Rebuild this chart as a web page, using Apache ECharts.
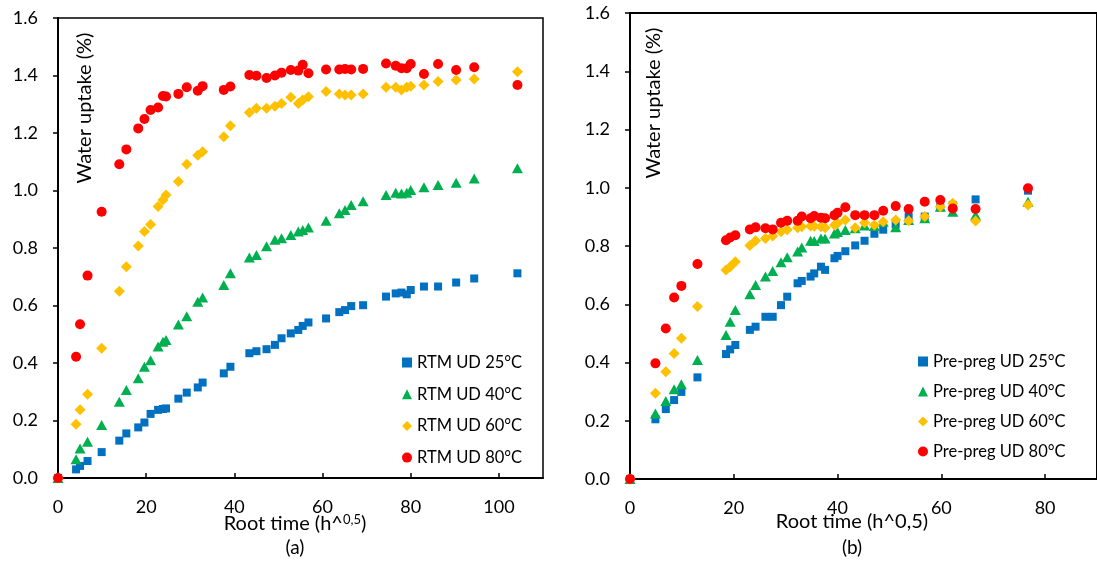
<!DOCTYPE html>
<html><head><meta charset="utf-8">
<script src="https://cdn.jsdelivr.net/npm/echarts@6/dist/echarts.min.js"></script>
<style>html,body{margin:0;padding:0;background:#fff}#c{width:1097px;height:565px}</style>
</head><body><div id="c"></div>
<script>
// ---------- Data (a): RTM UD ----------
const RTM_X = [0, 4.1, 5.0, 6.7, 9.9, 13.9, 15.5, 18.2, 19.6, 21.0, 22.7, 23.8, 24.5, 27.3, 29.2, 31.7, 32.8, 37.6, 39.1, 43.4, 45.0, 47.3, 49.2, 50.7, 52.8, 54.5, 55.5, 56.8, 60.8, 63.8, 65.1, 66.5, 69.2, 74.4, 76.6, 77.9, 79.1, 80.0, 83.0, 86.2, 90.3, 94.4, 104.2];
const RTM_25 = [0, 0.030, 0.042, 0.059, 0.090, 0.130, 0.155, 0.176, 0.193, 0.223, 0.237, 0.240, 0.242, 0.276, 0.297, 0.315, 0.332, 0.364, 0.387, 0.434, 0.441, 0.448, 0.463, 0.486, 0.503, 0.515, 0.529, 0.541, 0.555, 0.577, 0.584, 0.598, 0.601, 0.631, 0.642, 0.645, 0.639, 0.654, 0.666, 0.666, 0.680, 0.694, 0.712];
const RTM_40 = [0, 0.065, 0.103, 0.126, 0.184, 0.265, 0.306, 0.347, 0.387, 0.410, 0.457, 0.474, 0.480, 0.534, 0.563, 0.613, 0.628, 0.671, 0.712, 0.767, 0.776, 0.806, 0.829, 0.834, 0.845, 0.857, 0.863, 0.871, 0.895, 0.921, 0.932, 0.950, 0.963, 0.984, 0.992, 0.990, 0.992, 1.002, 1.011, 1.019, 1.027, 1.042, 1.077];
const RTM_60 = [0, 0.187, 0.237, 0.291, 0.451, 0.650, 0.735, 0.807, 0.857, 0.882, 0.944, 0.967, 0.984, 1.031, 1.091, 1.123, 1.135, 1.187, 1.225, 1.271, 1.286, 1.286, 1.293, 1.303, 1.324, 1.303, 1.315, 1.326, 1.344, 1.336, 1.332, 1.332, 1.336, 1.359, 1.359, 1.350, 1.359, 1.363, 1.367, 1.379, 1.384, 1.388, 1.413];
const RTM_80 = [0, 0.422, 0.535, 0.704, 0.926, 1.091, 1.143, 1.216, 1.249, 1.280, 1.289, 1.329, 1.327, 1.336, 1.359, 1.347, 1.363, 1.350, 1.362, 1.402, 1.399, 1.391, 1.400, 1.410, 1.419, 1.417, 1.437, 1.408, 1.421, 1.421, 1.423, 1.421, 1.423, 1.442, 1.434, 1.425, 1.425, 1.440, 1.405, 1.440, 1.419, 1.429, 1.367];

// ---------- Data (b): Pre-preg UD ----------
const PRE_X = [0, 4.9, 6.9, 8.5, 9.9, 13.0, 18.5, 19.3, 20.3, 23.1, 24.2, 26.1, 27.5, 29.1, 30.3, 32.3, 33.1, 34.8, 35.5, 36.8, 37.6, 39.4, 40.0, 41.5, 43.4, 45.2, 47.1, 48.8, 51.2, 53.7, 56.8, 59.8, 62.2, 66.6, 76.7];
const PRE_25 = [0, 0.205, 0.240, 0.271, 0.299, 0.349, 0.429, 0.445, 0.460, 0.512, 0.523, 0.557, 0.557, 0.597, 0.626, 0.672, 0.680, 0.695, 0.706, 0.729, 0.718, 0.758, 0.766, 0.782, 0.802, 0.818, 0.842, 0.856, 0.874, 0.901, 0.901, 0.933, 0.941, 0.960, 0.990];
const PRE_40 = [0, 0.225, 0.268, 0.308, 0.325, 0.409, 0.494, 0.540, 0.580, 0.634, 0.666, 0.695, 0.714, 0.744, 0.761, 0.781, 0.795, 0.818, 0.817, 0.826, 0.826, 0.843, 0.848, 0.855, 0.861, 0.870, 0.869, 0.883, 0.864, 0.889, 0.895, 0.935, 0.918, 0.906, 0.952];
const PRE_60 = [0, 0.294, 0.368, 0.431, 0.483, 0.592, 0.718, 0.729, 0.746, 0.802, 0.818, 0.826, 0.834, 0.849, 0.856, 0.863, 0.866, 0.869, 0.868, 0.866, 0.863, 0.872, 0.878, 0.889, 0.863, 0.880, 0.872, 0.883, 0.889, 0.887, 0.901, 0.935, 0.947, 0.886, 0.941];
const PRE_80 = [0, 0.397, 0.517, 0.623, 0.663, 0.738, 0.820, 0.829, 0.837, 0.857, 0.864, 0.861, 0.857, 0.880, 0.887, 0.887, 0.901, 0.895, 0.903, 0.897, 0.895, 0.906, 0.914, 0.933, 0.906, 0.906, 0.906, 0.921, 0.937, 0.927, 0.952, 0.958, 0.929, 0.927, 0.998];

// ---------- Labels / ticks ----------
const RTM_NAMES = ['RTM UD 25°C', 'RTM UD 40°C', 'RTM UD 60°C', 'RTM UD 80°C'];
const PRE_NAMES = ['Pre-preg UD 25°C', 'Pre-preg UD 40°C', 'Pre-preg UD 60°C', 'Pre-preg UD 80°C'];
const Y_TICKS = [0, 0.2, 0.4, 0.6, 0.8, 1.0, 1.2, 1.4, 1.6];
const X_TICKS_A = [0, 20, 40, 60, 80, 100];
const X_TICKS_B = [0, 20, 40, 60, 80];
const Y_NAME = 'Water uptake (%)';
const X_NAME = 'Root time (h^0,5)';

const COLORS = ['#0070C0', '#00B050', '#FFC000', '#FF0000'];
const SYMBOLS = ['rect', 'triangle', 'diamond', 'circle'];
const SIZES = [8, [11, 10], [11, 11], 10];
const FONT = 'Lato, "Open Sans", sans-serif';

const zip = (xs, ys) => xs.map((x, i) => [x, ys[i]]);

function yAxis(gi) {
  return {
    type: 'value', gridIndex: gi, min: Y_TICKS[0], max: Y_TICKS[Y_TICKS.length - 1], interval: 0.2,
    axisLine: { show: true, lineStyle: { color: '#000', width: 2 } },
    axisTick: { show: true, inside: false, length: 5, lineStyle: { color: '#000', width: 1.5 } },
    splitLine: { show: false },
    axisLabel: { color: '#000', fontSize: 18, fontFamily: FONT, margin: 20, formatter: v => v.toFixed(1) }
  };
}
function xAxis(gi, max) {
  return {
    type: 'value', gridIndex: gi, min: 0, max: max, interval: 20,
    axisLine: { show: true, onZero: false, lineStyle: { color: '#000', width: 2 } },
    axisTick: { show: true, inside: true, length: 5, lineStyle: { color: '#000', width: 1.5 } },
    splitLine: { show: false },
    axisLabel: { color: '#000', fontSize: 18, fontFamily: FONT, margin: 20, showMaxLabel: false }
  };
}

const series = [];
[RTM_25, RTM_40, RTM_60, RTM_80].forEach((ys, i) => series.push({
  type: 'scatter', name: RTM_NAMES[i], xAxisIndex: 0, yAxisIndex: 0,
  data: zip(RTM_X, ys), symbol: SYMBOLS[i], symbolSize: SIZES[i],
  itemStyle: { color: COLORS[i], opacity: 1 }, z: 2 + i, clip: false
}));
[PRE_25, PRE_40, PRE_60, PRE_80].forEach((ys, i) => series.push({
  type: 'scatter', name: PRE_NAMES[i], xAxisIndex: 1, yAxisIndex: 1,
  data: zip(PRE_X, ys), symbol: SYMBOLS[i], symbolSize: SIZES[i],
  itemStyle: { color: COLORS[i], opacity: 1 }, z: 2 + i, clip: false
}));

function legend(names, left, top, gap) {
  return {
    data: names, orient: 'vertical', left: left, top: top, itemWidth: 10, itemHeight: 10, itemGap: gap,
    selectedMode: false, textStyle: { color: '#000', fontSize: 16.5, fontFamily: FONT, lineHeight: 16 }
  };
}

const chart = echarts.init(document.getElementById('c'), null, { renderer: 'canvas' });
chart.setOption({
  animation: false,
  backgroundColor: '#fff',
  grid: [
    { left: 58, top: 18, width: 485, height: 460, show: true, borderColor: '#000', borderWidth: 1.5, backgroundColor: 'transparent' },
    { left: 630, top: 13, width: 503, height: 466, show: true, borderColor: '#000', borderWidth: 2, backgroundColor: 'transparent' }
  ],
  xAxis: [xAxis(0, 110), xAxis(1, 90)],
  yAxis: [yAxis(0), yAxis(1)],
  legend: [legend(RTM_NAMES, 397, 349, 14.7), legend(PRE_NAMES, 913, 348, 13)],
  series: series,
  graphic: [
    { type: 'text', x: 85, y: 108, rotation: Math.PI / 2, style: { text: Y_NAME, fill: '#000', font: '20px ' + FONT, align: 'center', verticalAlign: 'middle' } },
    { type: 'text', x: 654, y: 103, rotation: Math.PI / 2, style: { text: Y_NAME, fill: '#000', font: '20px ' + FONT, align: 'center', verticalAlign: 'middle' } },
    { type: 'text', x: 295, y: 523, style: {
        text: '{n|Root time (h^}{s|0,5}{n|)}', align: 'center', verticalAlign: 'middle',
        rich: { n: { fontSize: 20, fontFamily: FONT, fill: '#000', lineHeight: 22, verticalAlign: 'bottom' },
                s: { fontSize: 13, fontFamily: FONT, fill: '#000', lineHeight: 22, padding: [0, 0, 8, 0], verticalAlign: 'bottom' } } } },
    { type: 'text', x: 852, y: 522, style: { text: X_NAME, fill: '#000', font: '20px ' + FONT, align: 'center', verticalAlign: 'middle' } },
    { type: 'text', x: 295, y: 548, style: { text: '(a)', fill: '#000', font: '19px ' + FONT, align: 'center', verticalAlign: 'middle' } },
    { type: 'text', x: 852, y: 548, style: { text: '(b)', fill: '#000', font: '19px ' + FONT, align: 'center', verticalAlign: 'middle' } }
  ]
});
</script>
</body></html>
